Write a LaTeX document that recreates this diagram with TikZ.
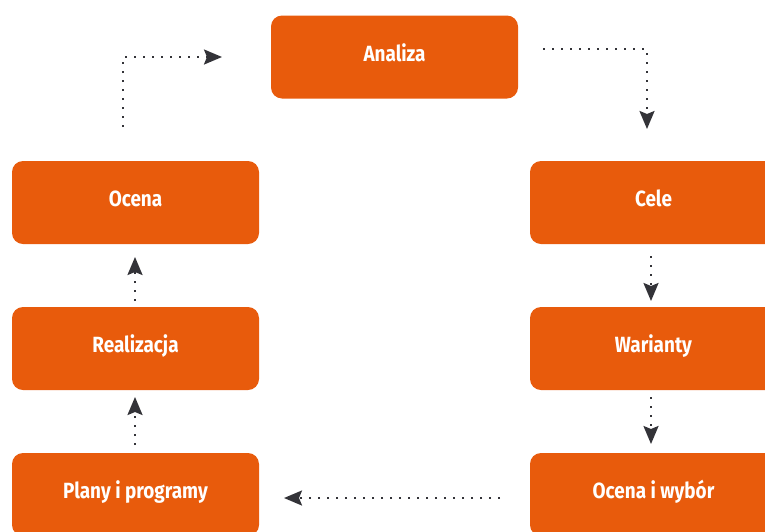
\documentclass[tikz,border=0pt]{standalone}
\usepackage{fontspec}
\setmainfont{Fira Sans}[FakeStretch=0.86]
\usetikzlibrary{arrows.meta}
\definecolor{boxorange}{HTML}{E85B0C}
\definecolor{arrowgray}{HTML}{333338}
\tikzset{
  stepbox/.style={fill=boxorange, rounded corners=11pt, minimum width=247pt, minimum height=83pt,
    inner sep=0pt, text=white, text height=12pt, text depth=4pt,
    font=\bfseries\fontsize{22}{24}\selectfont},
  flow/.style={draw=arrowgray, line width=2.2pt, dash pattern=on 2.2pt off 6.8pt,
    -{Stealth[length=18pt,width=15pt,inset=3pt]}, shorten >=0pt}
}
\begin{document}
\begin{tikzpicture}[x=1pt,y=-1pt]
\useasboundingbox (0,0) rectangle (765,531);
\clip (0,0) rectangle (765,531);
\node[stepbox] (analiza) at (394.5,57) {Analiza};
\node[stepbox] (ocena) at (135.5,202.5) {Ocena};
\node[stepbox] (cele) at (653.5,202.5) {Cele};
\node[stepbox] (realizacja) at (135.5,348.5) {Realizacja};
\node[stepbox] (warianty) at (653.5,348.5) {Warianty};
\node[stepbox] (plany) at (135.5,494.5) {Plany i programy};
\node[stepbox] (wybor) at (653.5,494.5) {Ocena i wybór};
% connectors
\coordinate (a1) at (123,127);
\coordinate (a2) at (222,57);
\draw[flow] (a1) |- (a2);
\coordinate (b1) at (543,49);
\coordinate (b2) at (647,129);
\draw[flow] (b1) -| (b2);
\coordinate (d1) at (651,256);
\coordinate (d2) at (651,301);
\draw[flow] (d1) -- (d2);
\coordinate (e1) at (651,397);
\coordinate (e2) at (651,444);
\draw[flow] (e1) -- (e2);
\coordinate (c1) at (500,498);
\coordinate (c2) at (284,498);
\draw[flow] (c1) -- (c2);
\coordinate (f1) at (135,445);
\coordinate (f2) at (135,397);
\draw[flow] (f1) -- (f2);
\coordinate (g1) at (135,301);
\coordinate (g2) at (135,257);
\draw[flow] (g1) -- (g2);
\end{tikzpicture}
\end{document}
